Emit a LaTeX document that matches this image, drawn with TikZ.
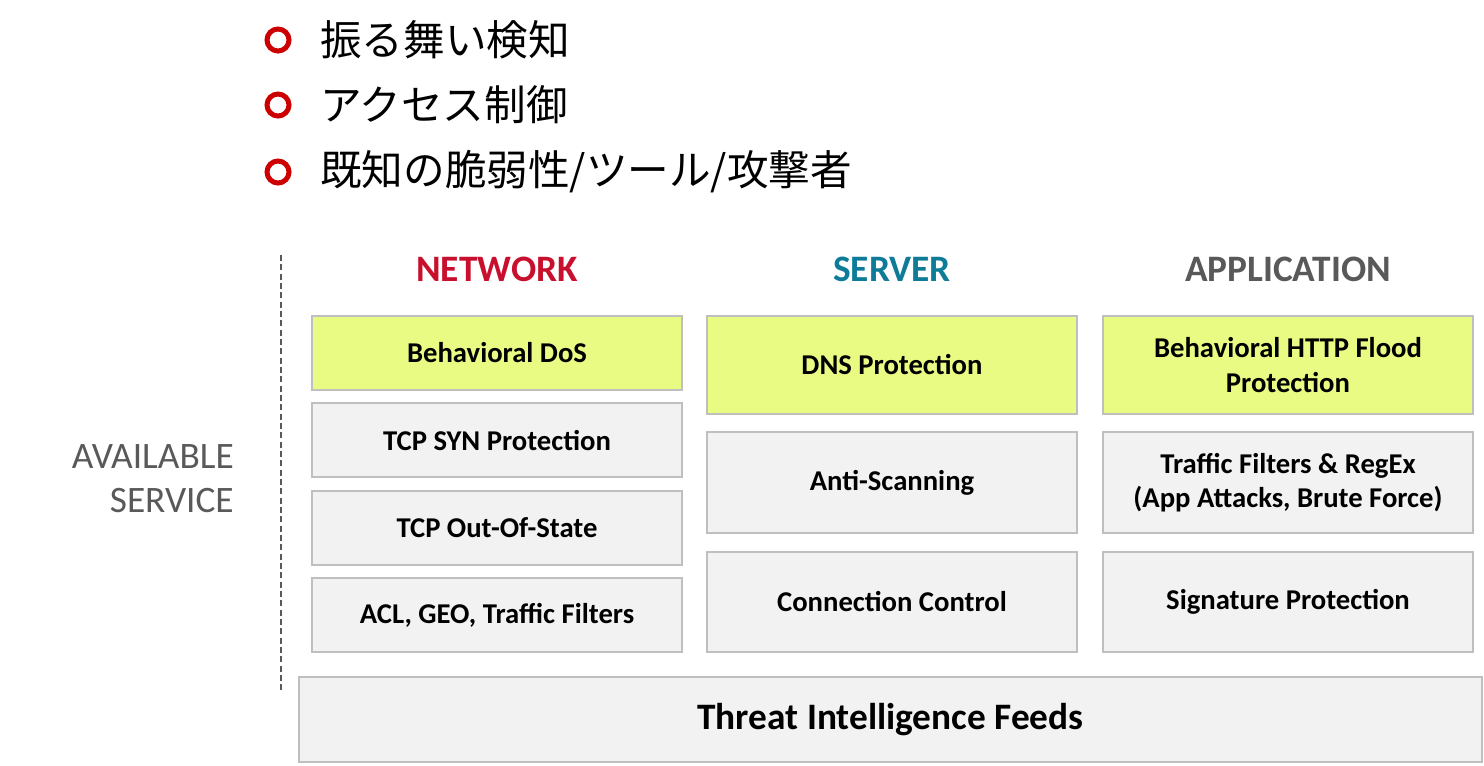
\documentclass[tikz,border=0pt]{standalone}
\usepackage{fontspec}
\usepackage{xcolor}
\usepackage{tikz}
\usetikzlibrary{positioning}
\setmainfont{Carlito}
\newfontfamily\jpfont{Noto Sans CJK JP}
\definecolor{netred}{HTML}{C8102E}
\definecolor{srvteal}{HTML}{0E7C99}
\definecolor{appgray}{HTML}{595959}
\definecolor{hiyellow}{HTML}{EAFB84}
\definecolor{boxgray}{HTML}{F2F2F2}
\definecolor{boxline}{HTML}{BFBFBF}
\definecolor{ringred}{HTML}{CC0000}

\begin{document}
\begin{tikzpicture}[x=0.75pt,y=-0.75pt,
box/.style={draw=boxline,line width=1.5pt,fill=boxgray,align=center,inner sep=0pt,minimum width=277.5pt,font=\fontsize{21.5}{26}\selectfont\bfseries},
hibox/.style={box,fill=hiyellow},
head/.style={font=\fontsize{28}{32}\selectfont\bfseries},
jtext/.style={anchor=west,inner sep=0pt,font=\fontsize{31.2}{36}\selectfont\jpfont},
ring/.style={draw=ringred,line width=3.75pt}
]
\useasboundingbox (0,0) rectangle (1484,765);

% bullets
\foreach \yy/\txt [count=\i] in {40/{振る舞い検知},105/{アクセス制御},172/{既知の脆弱性/ツール/攻撃者}}{
  \draw[ring] (278,\yy) circle[radius=8.25pt];
  \node[jtext] (j\i) at (320,\yy) {\txt};
}

% side label
\draw[appgray,line width=1.2pt,dash pattern=on 4.5pt off 2.5pt] (281,255) -- (281,692);
\node[align=right,anchor=east,inner sep=0pt,text=appgray,font=\fontsize{28}{33}\selectfont] (avail) at (234,479) {AVAILABLE\\SERVICE};

% columns
\node[head,text=netred] (network) at (497,269) {NETWORK};
\node[head,text=srvteal] (server) at (892,269) {SERVER};
\node[head,text=appgray] (application) at (1288,269) {APPLICATION};

\node[hibox,minimum height=55.5pt] (bdos) at (497,353) {Behavioral DoS};
\node[box,minimum height=55.5pt,below=8.5pt of bdos] (syn) {TCP SYN Protection};
\node[box,minimum height=55.5pt,below=8.5pt of syn] (oos) {TCP Out-Of-State};
\node[box,minimum height=55.5pt,below=8.5pt of oos] (acl) {ACL, GEO, Traffic Filters};

\node[hibox,minimum height=73.5pt] (dns) at (892,365) {DNS Protection};
\node[box,minimum height=75.75pt,below=12pt of dns] (scan) {Anti-Scanning};
\node[box,minimum height=75pt,below=12.75pt of scan] (conn) {Connection Control};

\node[hibox,minimum height=73.5pt] (http) at (1288,365) {Behavioral HTTP Flood\\Protection};
\node[box,minimum height=75.75pt,below=12pt of http] (regex) {Traffic Filters \& RegEx\\(App Attacks, Brute Force)};
\node[box,minimum height=75pt,below=12.75pt of regex] (sig) {Signature Protection};

\node[box,minimum width=887.25pt,minimum height=63.75pt,font=\fontsize{28}{30}\selectfont\bfseries] (feeds) at (890.5,719.5) {Threat Intelligence Feeds};
\end{tikzpicture}
\end{document}
